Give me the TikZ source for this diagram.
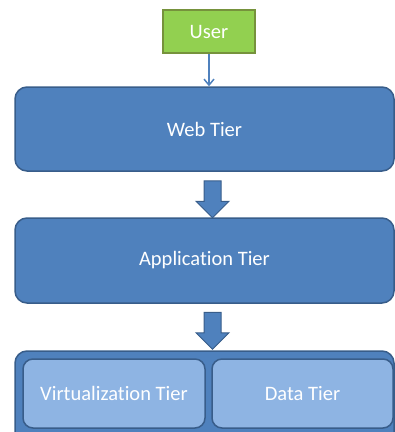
\documentclass[tikz,border=0pt]{standalone}
\usepackage{fontspec}
\setmainfont{Carlito}[Ligatures={NoCommon}]
\usetikzlibrary{shapes.arrows,arrows.meta}
\definecolor{tierblue}{HTML}{4F81BD}
\definecolor{tierline}{HTML}{385D8A}
\definecolor{lightblue}{HTML}{8EB4E3}
\definecolor{usergreen}{HTML}{92D050}
\definecolor{userline}{HTML}{76923C}
\tikzset{
  lbl/.style={text=white, font=\fontsize{20.5}{24}\selectfont},
  tier/.style={lbl, draw=tierline, fill=tierblue, line width=1.5pt, rounded corners=12pt, inner sep=0pt, minimum width=379pt},
  subtier/.style={lbl, draw=tierline, fill=lightblue, line width=1.5pt, rounded corners=10pt, inner sep=0pt, minimum height=69pt},
  bigarrow/.style={draw=tierline, fill=tierblue, line width=1pt, single arrow, shape border rotate=270, minimum height=37pt, minimum width=33pt, single arrow head extend=8pt, single arrow tip angle=90, inner sep=0pt, text width=16pt},
}
\begin{document}
\begin{tikzpicture}[x=1pt,y=-1pt]
\useasboundingbox (0,0) rectangle (395,432);
\node[lbl, draw=userline, fill=usergreen, line width=1.5pt, minimum width=92pt, minimum height=43pt, inner sep=0pt] (user) at (209,31.5) {User};
\node[tier, minimum height=84pt] (web) at (204.5,129) {Web Tier};
\draw[draw=tierblue, line width=1.5pt, -{Straight Barb[length=6pt,width=10pt]}] (user.south) -- (user.south |- web.north);
\node[bigarrow] (a1) at (212.5,195) {};
\node[tier, minimum height=85pt] (app) at (204.5,260.5) {Application Tier};
\node[bigarrow] (a2) at (212.5,326.5) {};
\node[tier, minimum height=94pt] (bottom) at (204.5,398) {};
\node[subtier, minimum width=182pt] (virt) at (114,393.5) {Virtualization Tier};
\node[subtier, minimum width=181pt] (data) at (302.5,393.5) {Data Tier};
\end{tikzpicture}
\end{document}
